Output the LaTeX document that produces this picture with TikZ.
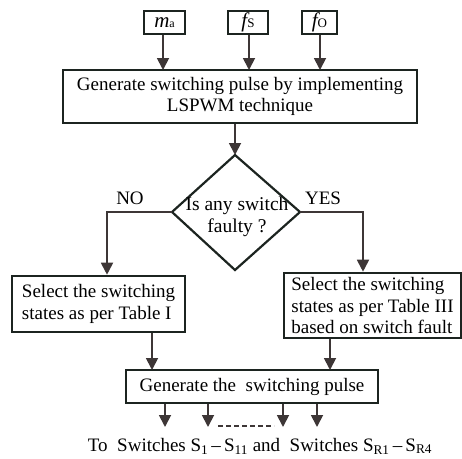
\documentclass[tikz,border=0pt]{standalone}
\usepackage{fontspec}
\setmainfont{Liberation Serif}
\usetikzlibrary{arrows.meta}
\definecolor{boxc}{HTML}{1C2420}
\definecolor{arrc}{HTML}{3D3636}
\begin{document}
\begin{tikzpicture}[x=1pt,y=-1pt,
  box/.style={draw=boxc, line width=2.6pt, inner sep=0pt, fill=white,
    font=\fontsize{19}{21.5}\selectfont},
  inbox/.style={draw=boxc, line width=2.4pt, inner sep=0pt, minimum height=23pt,
    font=\fontsize{21}{22}\selectfont},
  arr/.style={draw=arrc, line width=1.8pt, -{Triangle[length=12pt,width=12pt]}},
  lbl/.style={font=\fontsize{19}{21.5}\selectfont, inner sep=0pt},
]
\useasboundingbox (0,0) rectangle (462,458);

% input boxes
\node[inbox, minimum width=41pt] (ma) at (164.5,22.5) {\itshape m\upshape\fontsize{12}{12}\selectfont a};
\node[inbox, minimum width=40pt] (fs) at (248,22.5) {\itshape f\upshape\fontsize{13}{13}\selectfont S};
\node[inbox, minimum width=35pt] (fo) at (319.5,22.5) {\itshape f\upshape\fontsize{13}{13}\selectfont O};

% main box
\node[box, minimum width=354pt, minimum height=53pt, align=center,
  font=\fontsize{19}{21}\selectfont] (gen) at (240,96.5)
  {Generate switching pulse by implementing\\LSPWM technique};

% diamond
\coordinate (dt) at (235,155);
\coordinate (dl) at (172,212);
\coordinate (dr) at (300,212);
\coordinate (db) at (235,270);
\draw[draw=boxc, line width=2.2pt, line join=miter] (dt) -- (dr) -- (db) -- (dl) -- cycle;
\node[lbl, align=center, font=\fontsize{19.5}{22}\selectfont] (q) at (237,217) {Is any switch\\faulty ?};

% side boxes
\node[box, minimum width=173pt, minimum height=56pt, align=left] (lb) at (98.5,304)
  {Select the switching\\states as per Table I};
\node[box, minimum width=177pt, minimum height=65pt, align=left] (rb) at (372.5,305.5)
  {Select the switching\\states as per Table III\\based on switch fault};

% bottom box
\node[box, minimum width=252pt, minimum height=33pt] (bb) at (252,386.5)
  {Generate the\ \ switching pulse};

% labels
\node[lbl] (no) at (130,198) {NO};
\node[lbl] (yes) at (323,198) {YES};

% arrows from inputs
\draw[arr] (ma.south -| 163,0) -- (163,70);
\draw[arr] (fs.south -| 249,0) -- (249,70);
\draw[arr] (fo.south -| 320,0) -- (320,70);
\draw[arr] (gen.south -| dt) -- (dt);

% branches
\coordinate (nl) at (107,212);
\coordinate (yr) at (363,212);
\draw[arr] (dl) -- (nl) -- (nl |- lb.north);
\draw[arr] (dr) -- (yr) -- (yr |- rb.north);

% to bottom box
\draw[arr] (lb.south -| 152,0) -- (152,370);
\draw[arr] (rb.south -| 330,0) -- (330,370);

% outputs
\coordinate (o1) at (165,427);
\coordinate (o2) at (208,427);
\coordinate (o3) at (283,427);
\coordinate (o4) at (317,427);
\draw[arr] (bb.south -| o1) -- (o1);
\draw[arr] (bb.south -| o2) -- (o2);
\draw[arr] (bb.south -| o3) -- (o3);
\draw[arr] (bb.south -| o4) -- (o4);
\coordinate (d1) at (218,426);
\coordinate (d2) at (274,426);
\draw[draw=arrc, line width=2pt, dash pattern=on 5pt off 3pt] (d1) -- (d2);

\node[lbl, anchor=center] (out) at (260,446)
  {To\ \ Switches S\textsubscript{1}\,--\,S\textsubscript{11} and\ \ Switches S\textsubscript{R1}\,--\,S\textsubscript{R4}};
\end{tikzpicture}
\end{document}
